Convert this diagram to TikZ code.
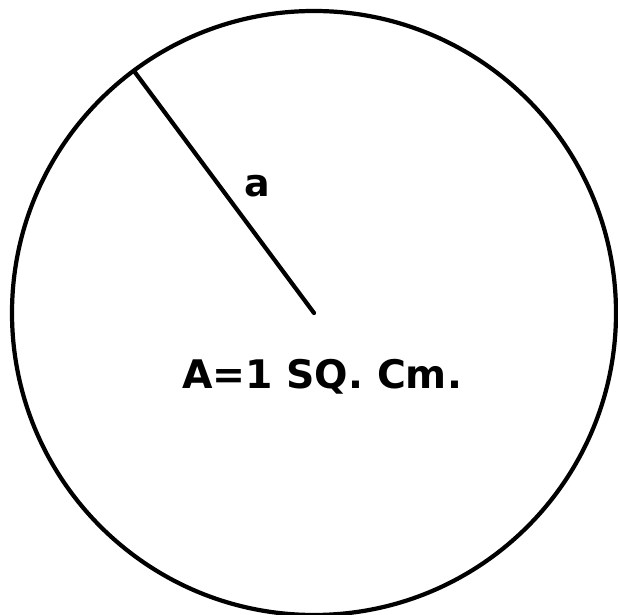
\documentclass[tikz,border=0pt]{standalone}
\usepackage{fontspec}
\setmainfont{DejaVu Sans}
\usetikzlibrary{calc, positioning}

\begin{document}
\begin{tikzpicture}[x=0.025cm, y=-0.025cm]
\def\R{302}
\def\LineW{3pt}

\useasboundingbox (0,0) rectangle (618,615);

\coordinate (O) at (314,313);
\coordinate (P) at (134,71);

\draw[line width=\LineW, black] (O) circle[radius=\R];

\draw[line width=\LineW, black, line cap=round] (O) -- (P);

\node[font=\fontsize{27}{32}\selectfont\bfseries] (alabel) at (257,186) {a};
\node[font=\fontsize{28}{34}\selectfont\bfseries] (area) at (322,377) {A=1 SQ. Cm.};
\end{tikzpicture}
\end{document}
